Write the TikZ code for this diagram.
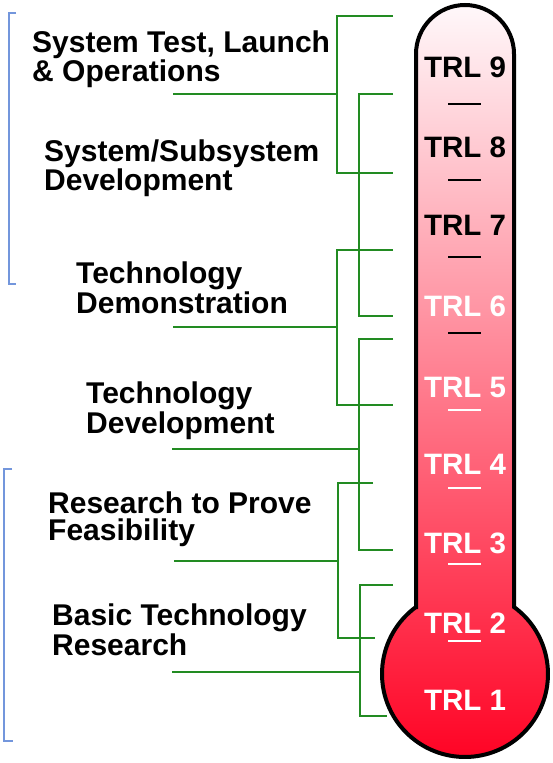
\documentclass[tikz,border=0pt]{standalone}
\usepackage{fontspec}
\setmainfont{Liberation Sans}
\definecolor{lgreen}{RGB}{34,139,34}
\definecolor{lblue}{RGB}{115,150,220}
\definecolor{ttop}{RGB}{255,248,250}
\definecolor{tbot}{RGB}{255,0,34}
\begin{document}
\begin{tikzpicture}[x=1pt,y=1pt,
  lbl/.style={anchor=north west, inner sep=0pt, align=left, font=\bfseries\fontsize{30}{27}\selectfont},
  trl/.style={anchor=base, inner sep=0pt, font=\bfseries\fontsize{29.5}{29.5}\selectfont},
  conn/.style={draw=lgreen, line width=2pt},
  brk/.style={draw=lblue, line width=1.3pt},
  sepline/.style={line width=2pt}]
\useasboundingbox (0,0) rectangle (552,-763);

% thermometer
\draw[line width=4pt, top color=ttop, bottom color=tbot]
  (416,-607) -- (416,-54) arc (180:0:49) -- (514,-607)
  arc (53.8:-233.8:83) -- cycle;

% TRL labels
\node[trl, text=black] (t9) at (465,-77) {TRL 9};
\node[trl, text=black] (t8) at (465,-157) {TRL 8};
\node[trl, text=black] (t7) at (465,-235) {TRL 7};
\node[trl, text=white] (t6) at (465,-316) {TRL 6};
\node[trl, text=white] (t5) at (465,-397) {TRL 5};
\node[trl, text=white] (t4) at (465,-474) {TRL 4};
\node[trl, text=white] (t3) at (465,-553) {TRL 3};
\node[trl, text=white] (t2) at (465,-633) {TRL 2};
\node[trl, text=white] (t1) at (465,-710) {TRL 1};

% separators
\foreach \yy in {104,180,257,333}
  \draw[sepline, black] (448,-\yy) -- (481,-\yy);
\foreach \yy in {410,488,564,641}
  \draw[sepline, white] (448,-\yy) -- (481,-\yy);

% phase labels
\node[lbl] (l1) at (32,-31) {System Test, Launch\\\& Operations};
\node[lbl] (l2) at (44,-140) {System/Subsystem\\Development};
\node[lbl] (l3) at (76,-262) {Technology\\Demonstration};
\node[lbl] (l4) at (86,-382) {Technology\\Development};
\node[lbl] (l5) at (48,-492) {Research to Prove\\Feasibility};
\node[lbl] (l6) at (52,-604) {Basic Technology\\Research};

% connector coordinates
\coordinate (a0) at (173,-94);  \coordinate (a1) at (337,-94);
\coordinate (at) at (337,-16);  \coordinate (ab) at (337,-173);
\coordinate (b1) at (359,-94);  \coordinate (bb) at (359,-316);
\coordinate (c0) at (173,-327); \coordinate (c1) at (337,-327);
\coordinate (ct) at (337,-250); \coordinate (cb) at (337,-405);
\coordinate (d0) at (172,-449); \coordinate (d1) at (359,-449);
\coordinate (dt) at (359,-339); \coordinate (db) at (359,-550);
\coordinate (e0) at (174,-561); \coordinate (e1) at (338,-561);
\coordinate (et) at (338,-483); \coordinate (eb) at (338,-638);
\coordinate (f0) at (172,-672); \coordinate (f1) at (360,-672);
\coordinate (ft) at (360,-585); \coordinate (fb) at (360,-716);

% green brackets
\draw[conn] (a0) -- (a1);
\draw[conn] (393,-16) -- (at) -- (ab) -- (393,-173);
\draw[conn] (393,-94) -- (b1) -- (bb) -- (393,-316);
\draw[conn] (c0) -- (c1);
\draw[conn] (393,-250) -- (ct) -- (cb) -- (393,-405);
\draw[conn] (d0) -- (d1);
\draw[conn] (393,-339) -- (dt) -- (db) -- (393,-550);
\draw[conn] (e0) -- (e1);
\draw[conn] (373,-483) -- (et) -- (eb) -- (375,-638);
\draw[conn] (f0) -- (f1);
\draw[conn] (393,-585) -- (ft) -- (fb) -- (387,-716);

% blue brackets
\draw[brk] (16,-13) -- (9,-13) -- (9,-284) -- (16,-284);
\draw[brk] (12,-469) -- (4,-469) -- (4,-741) -- (13,-741);
\end{tikzpicture}
\end{document}
